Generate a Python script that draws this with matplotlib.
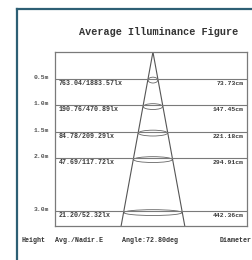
import matplotlib
matplotlib.use("Agg")
import matplotlib.pyplot as plt
from matplotlib.patches import Ellipse
from matplotlib.lines import Line2D
import matplotlib.transforms as mtransforms

title = "Average Illuminance Figure"
heights = [0.5, 1.0, 1.5, 2.0, 3.0]
height_labels = ["0.5m", "1.0m", "1.5m", "2.0m", "3.0m"]
avg_nadir = ["763.04/1883.57lx", "190.76/470.89lx", "84.78/209.29lx",
             "47.69/117.72lx", "21.20/52.32lx"]
diameters = ["73.73cm", "147.45cm", "221.18cm", "294.91cm", "442.36cm"]
footer = ["Height", "Avg./Nadir.E", "Angle:72.80deg", "Diameter"]

W, H = 253, 260
fig = plt.figure(figsize=(W / 100, H / 100), dpi=100)
fig.patch.set_facecolor("white")

FONT = "Liberation Mono"
TXT = "#3a3a3a"
LINE = "#7a7a7a"

# outer frame (left and top edges visible)
frame_col = "#2d5f74"
fig.add_artist(Line2D([17 / W, 17 / W], [1 - 9 / H, 0], color=frame_col, lw=1.6,
                      transform=fig.transFigure))
fig.add_artist(Line2D([17 / W, 1], [1 - 9 / H, 1 - 9 / H], color=frame_col, lw=1.6,
                      transform=fig.transFigure))

# main box
left, right, top, bottom = 55, 247, 52, 226
ax = fig.add_axes([left / W, 1 - bottom / H, (right - left) / W, (bottom - top) / H])
ybot = (bottom - top) / 53.0
ax.set_ylim(ybot, 0)
ax.set_xlim(-10.1, 9.7)
ax.set_xticks([])
ax.set_yticks([])
for s in ax.spines.values():
    s.set_color(LINE)
    s.set_linewidth(0.9)

# cone
ax.plot([0, -ybot], [0, ybot], color="#555555", lw=0.8)
ax.plot([0, ybot], [0, ybot], color="#555555", lw=0.8)

blend = mtransforms.blended_transform_factory(ax.transAxes, ax.transData)
for h, hl, an, d in zip(heights, height_labels, avg_nadir, diameters):
    ax.axhline(h, color=LINE, lw=0.8)
    ax.add_patch(Ellipse((0, h + 0.03), 2 * h, 0.11, fill=False, ec="#666666", lw=0.6))
    ax.text(-0.03, h - 0.02, hl, transform=blend, ha="right", va="center",
            fontsize=4.6, family=FONT, weight="bold", color="#555555")
    ax.text(0.02, h + 0.085, an, transform=blend, ha="left", va="center",
            fontsize=4.8, family=FONT, weight="bold", color=TXT)
    ax.text(0.985, h + 0.085, d, transform=blend, ha="right", va="center",
            fontsize=4.6, family=FONT, weight="bold", color=TXT)

fig.text(158.5 / W, 1 - 32 / H, title, ha="center", va="center", fontsize=7.3,
         family=FONT, weight="bold", color="#333333")

fx = [22, 55, 122, 220]
for x, t in zip(fx, footer):
    fig.text(x / W, 1 - 241 / H, t, ha="left", va="center", fontsize=4.8,
             family=FONT, weight="bold", color="#333333")

fig.savefig("out.png", dpi=100, facecolor="white")
